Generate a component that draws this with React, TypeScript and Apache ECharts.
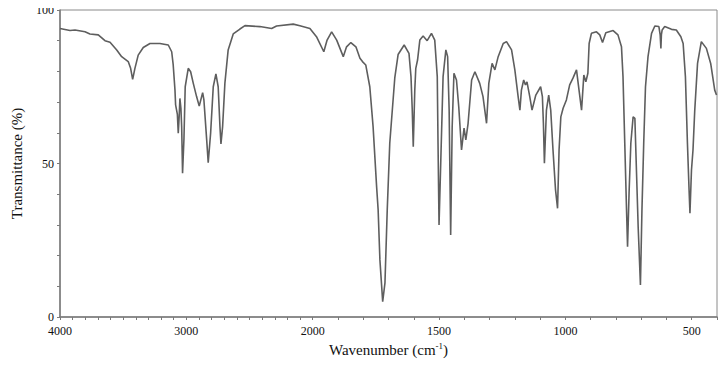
import React, { useEffect, useRef } from "react";
import * as echarts from "echarts";

// Spectrum (wavenumber in cm-1, transmittance in %)
const wavenumbers = [
  4000, 3921, 3881, 3802, 3763, 3697, 3644, 3604, 3551, 3512, 3460, 3441, 3425, 3407, 3381, 3341,
  3288, 3209, 3143, 3116, 3104, 3090, 3085, 3071, 3064, 3056, 3051, 3043, 3037, 3030, 3019, 3009,
  2985, 2966, 2945, 2919, 2898, 2871, 2861, 2839, 2827, 2808, 2787, 2766, 2748, 2734, 2726, 2713,
  2695, 2669, 2629, 2576, 2536, 2418, 2325, 2286, 2154, 2101, 2022, 1985, 1956, 1943, 1925, 1905,
  1879, 1866, 1849, 1829, 1813, 1803, 1790, 1774, 1761, 1747, 1741, 1734, 1723, 1714, 1705, 1695,
  1675, 1662, 1638, 1619, 1611, 1606, 1602, 1596, 1592, 1585, 1576, 1563, 1547, 1530, 1517, 1507,
  1504, 1500, 1493, 1484, 1473, 1466, 1460, 1454, 1448, 1441, 1431, 1422, 1411, 1401, 1394, 1385,
  1371, 1358, 1339, 1326, 1312, 1303, 1290, 1279, 1266, 1246, 1233, 1213, 1200, 1187, 1180, 1174,
  1165, 1158, 1152, 1141, 1132, 1117, 1098, 1091, 1087, 1083, 1075, 1066, 1058, 1049, 1039, 1031,
  1025, 1018, 1009, 996, 983, 970, 956, 946, 936, 927, 919, 911, 906, 897, 877, 864,
  853, 840, 811, 792, 778, 772, 765, 758, 754, 748, 741, 732, 725, 718, 712, 703,
  697, 690, 683, 673, 659, 646, 630, 625, 622, 620, 617, 607, 580, 561, 543, 534,
  525, 517, 511, 507, 501, 495, 488, 477, 462, 442, 425, 409, 402,
];
const transmittance = [
  94.0, 93.3, 93.5, 92.9, 92.2, 91.9, 90.0, 89.5, 87.0, 84.8, 83.2, 81.0, 77.4, 81.0, 85.3, 87.8,
  89.1, 89.1, 88.6, 86.4, 82.1, 73.9, 69.1, 66.0, 59.9, 66.0, 71.2, 68.0, 62.0, 46.8, 58.0, 75.0,
  81.0, 79.9, 76.1, 71.8, 68.7, 73.1, 70.7, 57.7, 50.3, 59.8, 75.0, 79.2, 75.0, 62.0, 56.4, 62.0,
  76.1, 87.0, 92.2, 93.8, 94.9, 94.6, 94.0, 94.8, 95.4, 94.9, 94.0, 91.3, 86.4, 90.2, 92.9, 90.2,
  84.8, 88.0, 89.4, 88.0, 84.3, 83.2, 82.1, 75.0, 62.0, 42.4, 34.9, 18.6, 5.0, 11.1, 34.9, 56.6,
  78.0, 85.5, 88.6, 85.9, 78.3, 67.4, 55.5, 73.9, 81.0, 83.7, 90.2, 91.5, 90.0, 92.4, 90.2, 78.3,
  56.6, 30.0, 51.1, 78.3, 87.0, 84.8, 67.4, 26.7, 62.0, 79.4, 77.2, 68.5, 54.4, 61.5, 57.7, 63.1,
  77.2, 79.9, 76.1, 71.8, 63.1, 76.1, 82.6, 80.5, 84.8, 89.1, 89.7, 87.0, 80.5, 71.8, 67.4, 73.9,
  77.2, 75.6, 76.6, 71.8, 67.4, 72.3, 75.0, 71.8, 63.1, 50.1, 67.4, 72.3, 67.4, 54.4, 41.4, 35.4,
  54.4, 65.2, 68.0, 70.7, 75.6, 77.8, 80.5, 73.9, 67.4, 78.8, 76.6, 79.4, 89.1, 92.4, 92.9, 91.9,
  89.4, 92.6, 93.3, 91.9, 88.0, 78.3, 56.6, 34.9, 22.9, 40.3, 56.6, 65.2, 64.7, 45.7, 29.4, 10.4,
  34.9, 56.6, 75.0, 84.8, 92.4, 94.8, 94.6, 92.0, 87.5, 92.0, 93.5, 94.6, 93.7, 93.5, 91.3, 89.1,
  78.3, 56.6, 42.4, 33.8, 47.9, 54.4, 67.4, 82.6, 89.7, 87.5, 82.6, 73.9, 72.3,
];

const xTickLabels = [4000, 3000, 2000, 1500, 1000, 500];
const yTickLabels = [0, 50, 100];

// Instrument scale change at 2000 cm-1: above it, half the spacing per wavenumber
const toPos = (w: number) => (w >= 2000 ? (4000 - w) / 2 : 1000 + (2000 - w));
const fromPos = (p: number) => (p <= 1000 ? 4000 - 2 * p : 3000 - p);

const xMinorTicks: number[] = [];
for (let w = 4000; w >= 400; w -= 100) xMinorTicks.push(toPos(w));

export default function App() {
  const ref = useRef<HTMLDivElement>(null);
  useEffect(() => {
    if (!ref.current) return;
    const chart = echarts.init(ref.current, undefined, { renderer: "svg" });
    const font = "'Liberation Serif', 'Times New Roman', serif";
    const data = wavenumbers.map((w, i) => [toPos(w), transmittance[i]]);
    chart.setOption({
      animation: false,
      backgroundColor: "#ffffff",
      grid: {
        left: 60,
        right: 11,
        top: 10,
        bottom: 52,
        show: true,
        borderColor: "#8a8a8a",
        borderWidth: 1,
      },
      xAxis: {
        type: "value",
        min: 0,
        max: toPos(400),
        interval: 500,
        name: "Wavenumber (cm{sup|-1})",
        nameLocation: "middle",
        nameGap: 20,
        nameTextStyle: {
          fontFamily: font,
          fontSize: 15,
          color: "#111",
          rich: {
            sup: { fontFamily: font, fontSize: 9, color: "#111", padding: [0, 0, 8, 0] },
          },
        },
        axisLine: { show: true, lineStyle: { color: "#7a7a7a", width: 1.5 } },
        axisTick: {
          show: true,
          customValues: xMinorTicks,
          length: 3,
          lineStyle: { color: "#7a7a7a", width: 1 },
        },
        axisLabel: {
          customValues: xTickLabels.map(toPos),
          formatter: (v: number) => String(Math.round(fromPos(v))),
          fontFamily: font,
          fontSize: 12,
          color: "#111",
          margin: 8,
        },
        splitLine: { show: false },
      },
      yAxis: {
        type: "value",
        min: 0,
        max: 100,
        interval: 10,
        name: "Transmittance (%)",
        nameLocation: "middle",
        nameGap: 36,
        nameTextStyle: { fontFamily: font, fontSize: 15, color: "#111" },
        axisLine: { show: true, lineStyle: { color: "#7a7a7a", width: 1.5 } },
        axisTick: { show: true, length: 3, lineStyle: { color: "#7a7a7a", width: 1 } },
        axisLabel: {
          formatter: (v: number) => (yTickLabels.includes(v) ? String(v) : ""),
          fontFamily: font,
          fontSize: 12,
          color: "#111",
          margin: 6,
        },
        splitLine: { show: false },
      },
      series: [
        {
          type: "line",
          data,
          showSymbol: false,
          lineStyle: { color: "#5e5e5e", width: 1.6 },
        },
      ],
    });
    return () => chart.dispose();
  }, []);
  return <div ref={ref} style={{ width: 728, height: 369, margin: -8 }} />;
}
